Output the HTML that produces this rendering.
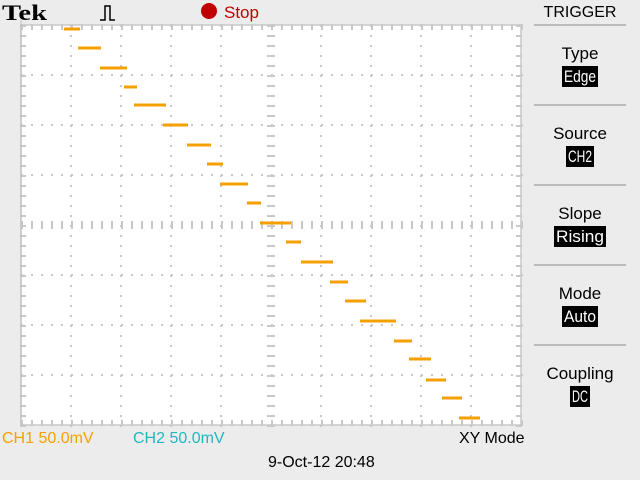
<!DOCTYPE html>
<html><head><meta charset="utf-8"><style>
body{margin:0;width:640px;height:480px;overflow:hidden;background:#ececec;font-family:"Liberation Sans",sans-serif}
svg{display:block}
</style></head><body>
<svg id="scope" width="640" height="480" xmlns="http://www.w3.org/2000/svg">
<rect x="0" y="0" width="640" height="480" fill="#ececec"/>
<rect x="21" y="25" width="500" height="400" fill="#ffffff"/>
<g id="grid"></g>
<g id="trace"></g>
<text x="2" y="20" font-family="Liberation Serif,serif" font-weight="bold" font-size="22" textLength="45" lengthAdjust="spacingAndGlyphs" fill="#000">Tek</text>
<path d="M100 20 h5 v-14 h5 v14 h5" fill="none" stroke="#000" stroke-width="1.5"/>
<circle cx="209" cy="11" r="8" fill="#c00000"/>
<text x="224" y="18" font-size="17" fill="#c00000">Stop</text>
<text x="580" y="17" font-size="16" text-anchor="middle" fill="#000">TRIGGER</text>
<g id="menu"></g>
<line x1="21" y1="20" x2="21" y2="425" stroke="#bbb" stroke-width="1"/>
<text x="2" y="443" font-size="16" fill="#f5a000">CH1  50.0mV</text>
<text x="133" y="443" font-size="16" fill="#20b8c0">CH2  50.0mV</text>
<text x="459" y="443" font-size="16" fill="#000">XY Mode</text>
<text x="268" y="467" font-size="16" fill="#000">9-Oct-12 20:48</text>
</svg>
<script>
// Trace step segments (mV; X=CH1, Y=CH2, 50mV/div, centre=0)
const segXStart=[-207,-193,-171,-147,-137,-108,-84,-64,-51,-24,-11,15,30,59,74,89,123,138,155,171,188];
const segXEnd=[-191,-170,-144,-134,-105,-83,-60,-48,-23,-10,20,30,62,77,95,125,141,160,175,191,209];
const segY=[196,177,157,138,120,100,80,61,41,22,2,-17,-37,-57,-76,-96,-116,-134,-155,-173,-193];

const NS='http://www.w3.org/2000/svg';
const cx=271,cy=225,ppm=1;
const xs=v=>cx+v*ppm, ys=v=>cy-v*ppm;
function mk(t,a,p){const e=document.createElementNS(NS,t);for(const k in a)e.setAttribute(k,a[k]);p.appendChild(e);return e;}
const g=document.getElementById('grid');
const gc='#c8c8c8';
for(let i=0;i<=10;i++){const x=21+i*50;
  for(let y=25;y<=425;y+=10){const r=mk('rect',{x:x-1,y:y,width:2,height:2,fill:gc},g);}}
for(let j=0;j<=8;j++){const y=25+j*50;
  for(let x=21;x<=521;x+=10){const r=mk('rect',{x:x,y:y-1,width:2,height:2,fill:gc},g);}}
for(let y=25;y<=425;y+=10){[[cx-4,8],[21,5],[516,5]].forEach(([x,w])=>{const r=mk('rect',{x:x,y:y,width:w,height:2,fill:gc},g);});}
for(let x=21;x<=521;x+=10){[[cy-4,8],[25,5],[420,5]].forEach(([y,h])=>{const r=mk('rect',{x:x,y:y,width:2,height:h,fill:gc},g);});}
mk('rect',{x:21,y:25,width:500,height:400,fill:'none',stroke:gc,'stroke-width':1.5},g);
const tr=document.getElementById('trace');
for(let i=0;i<segY.length;i++){
  const r=mk('rect',{x:xs(segXStart[i]),y:ys(segY[i])-1.5,width:xs(segXEnd[i])-xs(segXStart[i]),height:3,fill:'#f5a000'},tr);
  
  
}
const menu=document.getElementById('menu');
const items=[['Type','Edge'],['Source','CH2'],['Slope','Rising'],['Mode','Auto'],['Coupling','DC']];
items.forEach((it,i)=>{
  const y0=25+i*80;
  const l=mk('line',{x1:534,y1:y0,x2:626,y2:y0,stroke:'#bbb','stroke-width':2},menu);
  
  
  const t=mk('text',{x:580,y:y0+34,'font-size':17,'text-anchor':'middle',fill:'#000'},menu);t.textContent=it[0];
  
  
  const w=it[1].length*8+4;
  const b=mk('rect',{x:580-w/2,y:y0+41,width:w,height:21,fill:'#000'},menu);
  
  
  const v=mk('text',{x:580,y:y0+57,'font-size':17,'text-anchor':'middle',fill:'#fff',textLength:w-4,lengthAdjust:'spacingAndGlyphs'},menu);v.textContent=it[1];
  
  
});
</script>
</body></html>
